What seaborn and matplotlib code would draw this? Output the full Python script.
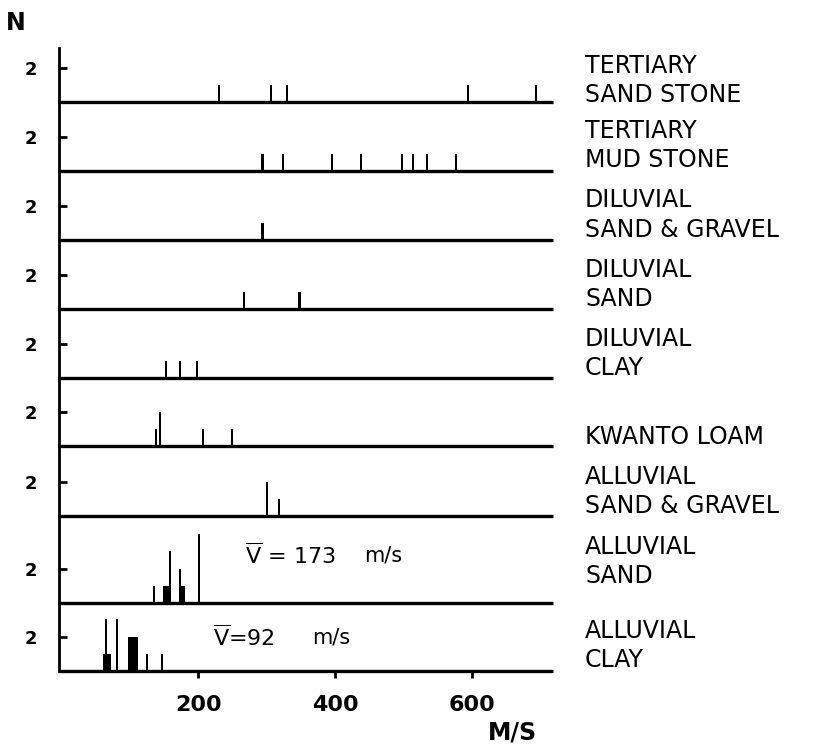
import numpy as np
import pandas as pd
import matplotlib
matplotlib.use("Agg")
import matplotlib.pyplot as plt
import seaborn as sns

sns.set_theme(style="ticks")
plt.rcParams['font.family'] = ['DejaVu Sans']
for k in ["text.color", "axes.labelcolor", "xtick.color", "ytick.color", "axes.edgecolor"]:
    plt.rcParams[k] = "black"

# ---------------- data ----------------
layer_names = [
    ("TERTIARY", "SAND STONE"),
    ("TERTIARY", "MUD STONE"),
    ("DILUVIAL", "SAND & GRAVEL"),
    ("DILUVIAL", "SAND"),
    ("DILUVIAL", "CLAY"),
    ("KWANTO LOAM",),
    ("ALLUVIAL", "SAND & GRAVEL"),
    ("ALLUVIAL", "SAND"),
    ("ALLUVIAL", "CLAY"),
]

ts_v = [230, 306, 329, 594, 693]
ts_n = [1, 1, 1, 1, 1]
tm_v = [294, 325, 395, 437, 497, 514, 534, 575]
tm_n = [1, 1, 1, 1, 1, 1, 1, 1]
dsg_v = [295]
dsg_n = [1]
ds_v = [268, 348]
ds_n = [1, 1]
dc_v = [153, 173, 198]
dc_n = [1, 1, 1]
kl_v = [137, 144, 208, 249]
kl_n = [1, 2, 1, 1]
asg_v = [299, 319]
asg_n = [2, 1]
as_v = [135, 150, 153, 156, 159, 174, 177, 180, 201]
as_n = [1, 1, 1, 1, 3, 2, 1, 1, 4]
ac_v = [63, 66, 69, 72, 81, 99, 102, 105, 108, 111, 126, 147]
ac_n = [1, 3, 1, 1, 3, 2, 2, 2, 2, 2, 1, 1]

series_v = [ts_v, tm_v, dsg_v, ds_v, dc_v, kl_v, asg_v, as_v, ac_v]
series_n = [ts_n, tm_n, dsg_n, ds_n, dc_n, kl_n, asg_n, as_n, ac_n]

x_ticks = [200, 400, 600]
y_tick = 2
mean_values = {7: r"$\overline{\mathrm{V}}$ = 173", 8: r"$\overline{\mathrm{V}}$=92"}
mean_unit = "m/s"

# ---------------- layout (pixels) ----------------
W, H = 838, 750
left_px, right_px = 59, 553
bounds = [48, 102, 171, 240, 309, 378, 446, 516, 603, 671]
px_per_unit = 17.2
xlim = (-3, 718)
label_y = [(66, 95), (131, 160), (200, 230), (270, 299), (339, 368),
           (437,), (477, 506), (547, 576), (631, 660)]
mean_pos = {7: (268, 443, 2.75), 8: (222, 367, 1.95)}

fig = plt.figure(figsize=(W / 100, H / 100), dpi=100)

for i in range(9):
    top, bot = bounds[i], bounds[i + 1]
    ax = fig.add_axes([left_px / W, 1 - bot / H, (right_px - left_px) / W, (bot - top) / H])
    ax.patch.set_visible(False)
    df = pd.DataFrame({"v": series_v[i], "n": series_n[i]})
    sns.histplot(data=df, x="v", weights="n", binwidth=3, binrange=(-1.5, 721.5), ax=ax,
                 color="black", edgecolor="none", linewidth=0, alpha=1, antialiased=False)
    ax.set_xlim(*xlim)
    ax.set_ylim(0, (bot - top) / px_per_unit)
    ax.set_xlabel("")
    ax.set_ylabel("")
    for s in ["top", "right"]:
        ax.spines[s].set_visible(False)
    ax.spines["left"].set_linewidth(2)
    ax.spines["bottom"].set_linewidth(2.4)
    ax.spines["bottom"].set_capstyle("butt")
    ax.set_yticks([y_tick])
    ax.set_yticklabels([str(y_tick)], fontsize=13, fontweight="bold")
    ax.tick_params(axis="y", direction="in", length=6, width=2, pad=16)
    if i == 8:
        ax.set_xticks(x_ticks)
        ax.set_xticklabels([str(t) for t in x_ticks], fontsize=16, fontweight="bold")
        ax.tick_params(axis="x", direction="out", length=5, width=2, pad=12)
    else:
        ax.set_xticks([])
    if i in mean_values:
        mx, ux, my = mean_pos[i]
        ax.text(mx, my, mean_values[i], fontsize=16, va="center", ha="left")
        ax.text(ux, my, mean_unit, fontsize=15, va="center", ha="left")
    for line, ly in zip(layer_names[i], label_y[i]):
        fig.text(585 / W, 1 - ly / H, line, fontsize=17, va="center", ha="left")

fig.text(16 / W, 1 - 23 / H, "N", fontsize=17, fontweight="bold", ha="center", va="center")
fig.text(512 / W, 1 - 733 / H, "M/S", fontsize=17, fontweight="bold", ha="center", va="center")

fig.savefig("out.png", dpi=100, facecolor="white")
